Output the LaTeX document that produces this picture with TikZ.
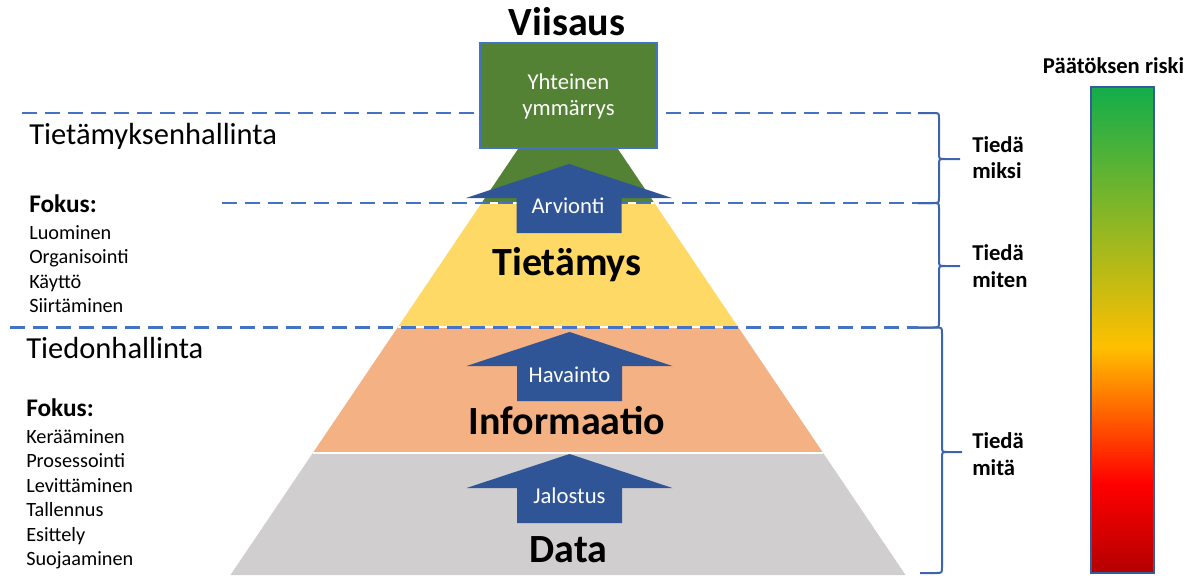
\documentclass[tikz,border=0pt]{standalone}
\usepackage{fontspec}
\setmainfont{Carlito}
\definecolor{wgreen}{HTML}{548235}
\definecolor{kyellow}{HTML}{FFD966}
\definecolor{iorange}{HTML}{F4B183}
\definecolor{dgrey}{HTML}{D0CECE}
\definecolor{ablue}{HTML}{2F5597}
\definecolor{dblue}{HTML}{4472C4}
\definecolor{bblue}{HTML}{3D64AC}
\definecolor{rgreen}{HTML}{12AD4B}
\definecolor{ryellow}{HTML}{FFC000}
\definecolor{rred}{HTML}{FF0000}
\definecolor{rdark}{HTML}{B40000}
\newcommand\fsz[1]{\fontsize{#1}{#1}\selectfont}
\begin{document}
\begin{tikzpicture}[x=0.75pt,y=-0.75pt,
  txt/.style={inner sep=0pt,anchor=base},
  ltxt/.style={inner sep=0pt,anchor=base west},
  layerlbl/.style={txt,font=\fsz{30}\bfseries},
  arrowlbl/.style={txt,text=white,font=\fsz{17}},
  item/.style={ltxt,font=\fsz{15.2}},
  fokus/.style={ltxt,font=\fsz{19}\bfseries},
  headlbl/.style={ltxt,font=\fsz{22.9}},
  knowlbl/.style={ltxt,font=\fsz{17}\bfseries},
  dashline/.style={dblue,line width=1.7pt,dash pattern=on 11.25pt off 6pt},
  bracestroke/.style={bblue,line width=1.5pt,line join=round},
  sep/.style={white,line width=1.1pt},
  blockup/.pic={\fill[ablue] (0,0) -- (103,34) -- (52.5,34) -- (52.5,69)
      -- (-52.5,69) -- (-52.5,34) -- (-103,34) -- cycle;}
]
\useasboundingbox (0,0) rectangle (1202,575);

% pyramid layers
\fill[wgreen]  (568,75) -- (654.4,203) -- (481.6,203) -- cycle;
\fill[kyellow] (481.6,203) -- (654.4,203) -- (738.1,327) -- (397.9,327) -- cycle;
\fill[iorange] (397.9,327) -- (738.1,327) -- (823.2,453) -- (312.8,453) -- cycle;
\fill[dgrey]   (312.8,453) -- (823.2,453) -- (905.5,575) -- (230.5,575) -- cycle;
\draw[sep] (481.6,203) -- (654.4,203);
\draw[sep] (397.9,327) -- (738.1,327);
\draw[sep] (312.8,453) -- (823.2,453);

% dashed level lines
\coordinate (d1a) at (22,113);  \coordinate (d1b) at (918,113);
\coordinate (d2a) at (222,203); \coordinate (d2b) at (918,203);
\coordinate (d3a) at (10,327.5); \coordinate (d3b) at (918,327.5);
\draw[dashline] (d1a) -- (d1b);
\draw[dashline] (d2a) -- (d2b);
\draw[dashline] (d3a) -- (d3b);

% upward block arrows
\pic at (569,164) {blockup};
\pic at (569.5,332) {blockup};
\pic at (569.5,454) {blockup};

% top box
\node[draw=dblue,line width=0.9pt,fill=wgreen,minimum width=132.75pt,
      minimum height=78.75pt,inner sep=0pt] (box) at (568.5,95.5) {};

% central texts
\node[txt,font=\fsz{30}\bfseries] (viisaus) at (567,35) {Viisaus};
\node[txt,text=white,font=\fsz{17}] (yht) at (568.5,89) {Yhteinen};
\node[txt,text=white,font=\fsz{17}] (ymm) at (568.5,115) {ymmärrys};
\node[arrowlbl] (arv) at (568,213) {Arvionti};
\node[arrowlbl] (hav) at (569.5,382) {Havainto};
\node[arrowlbl] (jal) at (569.5,503) {Jalostus};
\node[layerlbl] (tiet) at (567,275) {Tietämys};
\node[layerlbl] (info) at (567,434) {Informaatio};
\node[layerlbl] (data) at (568.5,562) {Data};

% left column
\node[headlbl] (th) at (29,144) {Tietämyksenhallinta};
\node[fokus] (f1) at (29,212) {Fokus:};
\node[item] (i11) at (29,239) {Luominen};
\node[item] (i12) at (29,263.5) {Organisointi};
\node[item] (i13) at (29,288) {Käyttö};
\node[item] (i14) at (29,312.5) {Siirtäminen};
\node[headlbl] (tdh) at (26,358) {Tiedonhallinta};
\node[fokus] (f2) at (26,416) {Fokus:};
\node[item] (i21) at (26,443) {Kerääminen};
\node[item] (i22) at (26,467.5) {Prosessointi};
\node[item] (i23) at (26,492) {Levittäminen};
\node[item] (i24) at (26,516.5) {Tallennus};
\node[item] (i25) at (26,541) {Esittely};
\node[item] (i26) at (26,565.5) {Suojaaminen};

% braces
\draw[bracestroke] (918,113) -- (933,113) .. controls (939,113) .. (939,119)
   -- (939,153) .. controls (939,159) .. (945,159) -- (960,159)
   (945,159) .. controls (939,159) .. (939,165) -- (939,197)
   .. controls (939,203) .. (933,203) -- (918,203);
\draw[bracestroke] (918,203) -- (933,203) .. controls (939,203) .. (939,209)
   -- (939,260) .. controls (939,266) .. (945,266) -- (960,266)
   (945,266) .. controls (939,266) .. (939,272) -- (939,321)
   .. controls (939,327.5) .. (933,327.5) -- (918,327.5);
\draw[bracestroke] (918,327.5) -- (936,327.5) .. controls (942,327.5) .. (942,334)
   -- (942,446) .. controls (942,452) .. (948,452) -- (962,452)
   (948,452) .. controls (942,452) .. (942,458) -- (942,567)
   .. controls (942,573) .. (936,573) -- (920,573);

% brace labels
\node[knowlbl] (k1a) at (972,152) {Tiedä};
\node[knowlbl] (k1b) at (972,178) {miksi};
\node[knowlbl] (k2a) at (972,260) {Tiedä};
\node[knowlbl] (k2b) at (972,287) {miten};
\node[knowlbl] (k3a) at (972,448) {Tiedä};
\node[knowlbl] (k3b) at (972,475) {mitä};

% risk scale
\node[txt,font=\fsz{17}\bfseries] (risk) at (1113.5,73) {Päätöksen riski};
\shade[top color=rgreen,bottom color=ryellow] (1091,87) rectangle (1154,347.5);
\shade[top color=ryellow,bottom color=rred] (1091,347) rectangle (1154,483.5);
\shade[top color=rred,bottom color=rdark] (1091,483) rectangle (1154,573);
\draw[dblue!80!black,line width=0.9pt] (1091,87) rectangle (1154,573);
\end{tikzpicture}
\end{document}
